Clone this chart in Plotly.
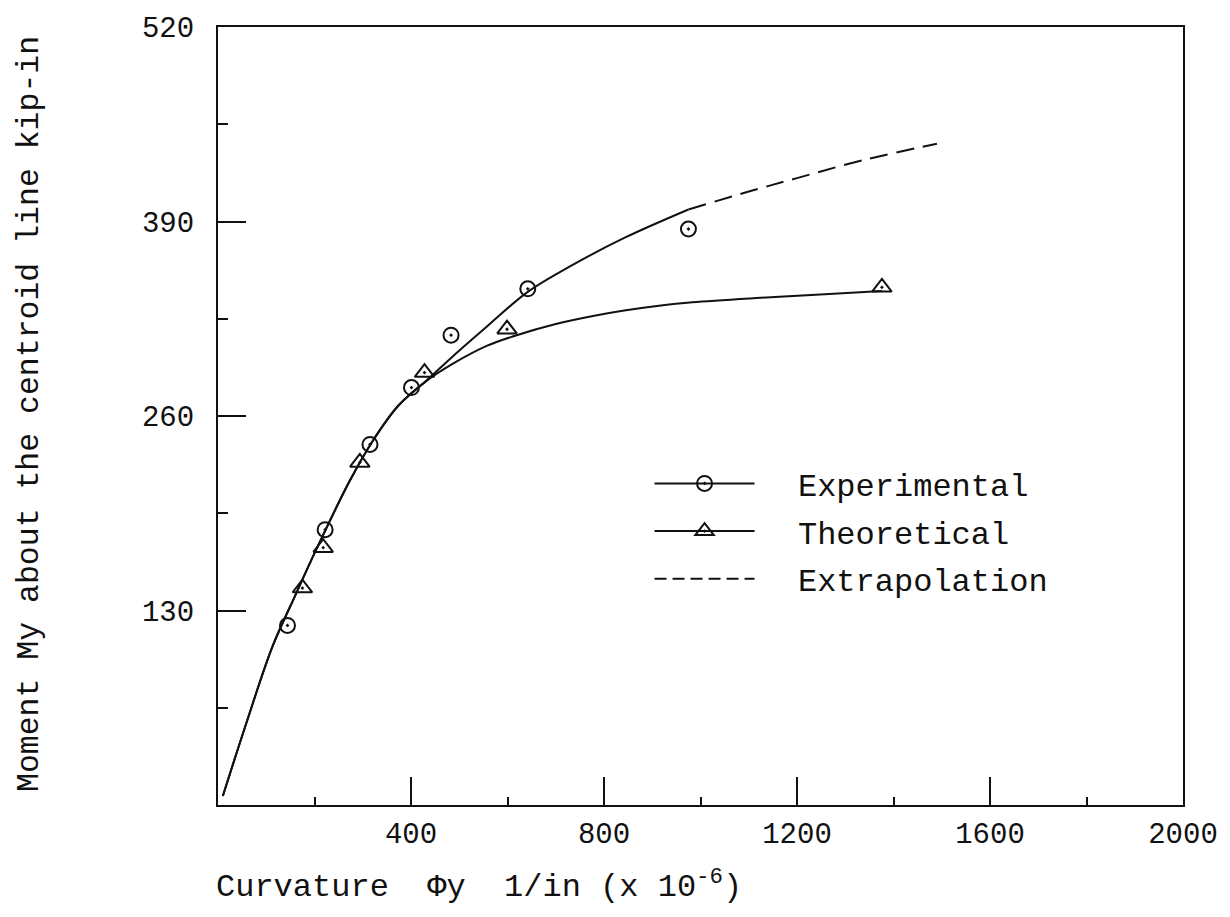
import plotly.graph_objects as go

# ---- data ----
common_x = [10, 60, 113, 160, 204, 272, 320, 374, 430]
common_y = [6, 56, 106, 140, 171, 216, 243, 267, 283]

exp_branch_x = [487, 558, 642, 735, 842, 975]
exp_branch_y = [300, 320, 343, 361, 379, 398]

th_branch_x = [487, 558, 614, 700, 780, 842, 910, 983, 1125, 1267, 1376]
th_branch_y = [295, 307, 313.5, 321.5, 327, 330.5, 333.5, 336, 339, 341.5, 343.5]

extrap_x = [975, 1100, 1200, 1337, 1490]
extrap_y = [398, 410, 419, 431, 442]

exp_pts_x = [144, 222, 315, 401, 483, 642, 975]
exp_pts_y = [120, 184, 241, 279, 314, 345, 385]

th_pts_x = [175, 218, 294, 428, 599, 1376]
th_pts_y = [145, 172, 229, 289, 318, 346]

x_tickvals = [400, 800, 1200, 1600, 2000]
x_minor = [200, 600, 1000, 1400, 1800]
y_tickvals = [130, 260, 390, 520]
y_minor = [65, 195, 325, 455]

FONT = "Liberation Mono"
BLACK = "#111111"

fig = go.Figure()

line_style = dict(color=BLACK, width=2, shape="spline", smoothing=1.0)

fig.add_trace(go.Scatter(x=common_x + exp_branch_x, y=common_y + exp_branch_y,
                         mode="lines", line=line_style, showlegend=False))
fig.add_trace(go.Scatter(x=common_x + th_branch_x, y=common_y + th_branch_y,
                         mode="lines", line=line_style, showlegend=False))
fig.add_trace(go.Scatter(x=extrap_x, y=extrap_y, mode="lines",
                         line=dict(color=BLACK, width=2, dash="18px,9px", shape="spline"),
                         showlegend=False))

circle_marker = dict(symbol="circle-open-dot", size=15, color=BLACK, line=dict(width=2, color=BLACK))
tri_marker = dict(symbol="triangle-up-open-dot", size=17, color=BLACK, line=dict(width=2, color=BLACK))

fig.add_trace(go.Scatter(x=exp_pts_x, y=exp_pts_y, mode="markers", marker=circle_marker,
                         showlegend=False))
fig.add_trace(go.Scatter(x=th_pts_x, y=th_pts_y, mode="markers", marker=tri_marker,
                         showlegend=False))

# legend entries
fig.add_trace(go.Scatter(x=[None], y=[None], mode="lines+markers", name="&nbsp;&nbsp;Experimental",
                         line=dict(color=BLACK, width=2), marker=circle_marker, legendgroup="a"))
fig.add_trace(go.Scatter(x=[None], y=[None], mode="lines+markers", name="&nbsp;&nbsp;Theoretical",
                         line=dict(color=BLACK, width=2), marker=tri_marker, legendgroup="b"))
fig.add_trace(go.Scatter(x=[None], y=[None], mode="lines", name="&nbsp;&nbsp;Extrapolation",
                         line=dict(color=BLACK, width=2, dash="12px,6px"), legendgroup="c"))

axis_common = dict(showline=True, linecolor=BLACK, linewidth=2, mirror=True,
                   showgrid=False, zeroline=False, ticks="inside", tickcolor=BLACK,
                   tickwidth=2, ticklen=28,
                   tickfont=dict(family=FONT, size=29, color=BLACK))

fig.update_xaxes(range=[0, 2000], tickmode="array", tickvals=x_tickvals,
                 ticktext=[str(v) for v in x_tickvals], ticklabelstandoff=1,
                 minor=dict(tickmode="array", tickvals=x_minor, ticks="inside",
                            ticklen=8, tickwidth=2, tickcolor=BLACK),
                 **axis_common)
fig.update_yaxes(range=[0, 520], tickmode="array", tickvals=y_tickvals,
                 ticktext=[str(v) for v in y_tickvals], ticklabelstandoff=16,
                 minor=dict(tickmode="array", tickvals=y_minor, ticks="inside",
                            ticklen=10, tickwidth=2, tickcolor=BLACK),
                 **axis_common)

fig.add_annotation(text="Curvature&nbsp;&nbsp;Φy&nbsp;&nbsp;1/in (x 10<sup>-6</sup>)",
                   xref="paper", yref="paper", x=-0.004, y=-0.103, xanchor="left", yanchor="middle",
                   showarrow=False, font=dict(family=FONT, size=32, color=BLACK))
fig.add_annotation(text="Moment My about the centroid line kip-in",
                   xref="paper", yref="paper", x=-0.1955, y=0.503, xanchor="center",
                   yanchor="middle", textangle=-90, showarrow=False,
                   font=dict(family=FONT, size=31.5, color=BLACK))

fig.update_layout(
    width=1230, height=917,
    margin=dict(l=218, r=40, t=27, b=112),
    paper_bgcolor="white", plot_bgcolor="white",
    showlegend=True,
    legend=dict(x=0.4472, y=0.4484, xanchor="left", yanchor="top",
                font=dict(family=FONT, size=32, color=BLACK),
                bgcolor="rgba(0,0,0,0)", itemwidth=100, traceorder="grouped",
                tracegroupgap=3),
)

fig.write_html("out.html")
